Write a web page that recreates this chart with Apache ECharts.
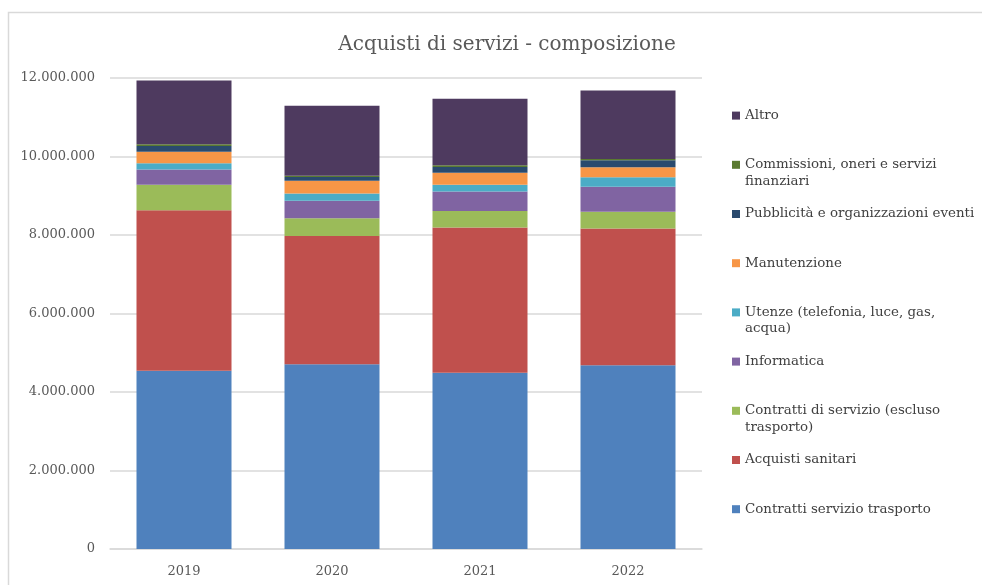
<!DOCTYPE html>
<html>
<head>
<meta charset="utf-8">
<script src="https://cdn.jsdelivr.net/npm/echarts@6/dist/echarts.min.js"></script>
<style>
  html, body { margin: 0; padding: 0; background: #fff; }
  #chart { width: 982px; height: 585px; }
</style>
</head>
<body>
<div id="chart"></div>
<script>
// anni
var years = ['2019', '2020', '2021', '2022'];
// valori per voce (euro)
var trasporto    = [4540000, 4707000, 4490000, 4680000];
var sanitari     = [4090000, 3270000, 3700000, 3486000];
var contratti    = [650000, 452000, 424000, 424000];
var informatica  = [390000, 442000, 495000, 639000];
var utenze       = [155000, 189000, 169000, 240000];
var manutenzione = [295000, 322000, 306000, 255000];
var pubblicita   = [150000, 95000, 150000, 180000];
var commissioni  = [40000, 33000, 40000, 30000];
var altro        = [1625000, 1780000, 1695000, 1745000];
var yTicks = [0, 2000000, 4000000, 6000000, 8000000, 10000000, 12000000];

var names = [
    'Contratti servizio trasporto',
    'Acquisti sanitari',
    'Contratti di servizio (escluso trasporto)',
    'Informatica',
    'Utenze (telefonia, luce, gas, acqua)',
    'Manutenzione',
    'Pubblicità e organizzazioni eventi',
    'Commissioni, oneri e servizi finanziari',
    'Altro'
];
var values = [trasporto, sanitari, contratti, informatica, utenze, manutenzione, pubblicita, commissioni, altro];
var colors = ['#4F81BD', '#C0504D', '#9BBB59', '#8064A2', '#4BACC6', '#F79646', '#2A4A6E', '#5A7A30', '#4E3A5F'];

// testo della legenda su piu righe
var legendText = {
    'Commissioni, oneri e servizi finanziari': 'Commissioni, oneri e servizi\nfinanziari',
    'Utenze (telefonia, luce, gas, acqua)': 'Utenze (telefonia, luce, gas,\nacqua)',
    'Contratti di servizio (escluso trasporto)': 'Contratti di servizio (escluso\ntrasporto)'
};

function fmt(v) {
    return String(v).replace(/\B(?=(\d{3})+(?!\d))/g, '.');
}

var serif = 'DejaVu Serif';
var chart = echarts.init(document.getElementById('chart'));

var series = [];
for (var i = 0; i < names.length; i++) {
    series.push({
        name: names[i],
        type: 'bar',
        stack: 'tot',
        barWidth: 95,
        itemStyle: { color: colors[i] },
        data: values[i]
    });
}

var option = {
    backgroundColor: '#fff',
    animation: false,
    title: {
        text: 'Acquisti di servizi - composizione',
        left: 502,
        textAlign: 'center',
        top: 30,
        textStyle: { fontFamily: serif, fontWeight: 'normal', fontSize: 20, color: '#595959' }
    },
    graphic: [{
        type: 'rect',
        shape: { x: 8.5, y: 12.5, width: 1000, height: 600 },
        style: { fill: 'none', stroke: '#d9d9d9', lineWidth: 1.5 },
        silent: true
    }],
    legend: {
        orient: 'vertical',
        left: 732,
        top: 91,
        padding: 0,
        itemWidth: 8,
        itemHeight: 8,
        itemGap: 0,
        icon: 'rect',
        data: names.slice().reverse(),
        formatter: function (name) {
            var t = legendText[name];
            if (t) return '\n' + t;
            return '\n' + name + '\n';
        },
        textStyle: { fontFamily: serif, fontSize: 13.4, color: '#404040', lineHeight: 16.4 }
    },
    grid: { left: 110, right: 280, top: 78, bottom: 36 },
    xAxis: {
        type: 'category',
        data: years,
        axisTick: { show: false },
        axisLine: { lineStyle: { color: '#d9d9d9', width: 1.5 } },
        axisLabel: { fontFamily: serif, fontSize: 13, color: '#595959', margin: 16 }
    },
    yAxis: {
        type: 'value',
        min: yTicks[0],
        max: yTicks[yTicks.length - 1],
        interval: yTicks[1] - yTicks[0],
        axisLine: { show: false },
        axisTick: { show: false },
        splitLine: { lineStyle: { color: '#d9d9d9', width: 1.5 } },
        axisLabel: { fontFamily: serif, fontSize: 13, color: '#595959', margin: 15, formatter: fmt }
    },
    series: series
};

chart.setOption(option);
</script>
</body>
</html>
